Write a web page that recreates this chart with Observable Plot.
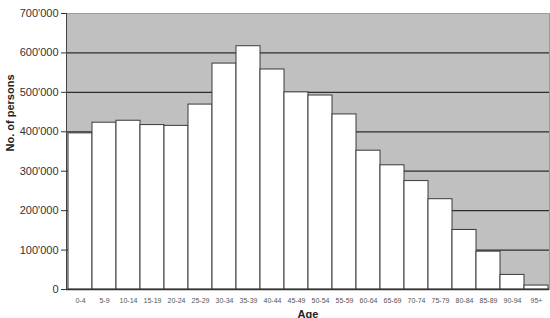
<!DOCTYPE html>
<html>
<head>
<meta charset="utf-8">
<script src="https://cdn.jsdelivr.net/npm/d3@7"></script>
<script src="https://cdn.jsdelivr.net/npm/@observablehq/plot@0.6"></script>
<style>
  html, body { margin: 0; padding: 0; background: #fff; }
  #chart { width: 550px; height: 318px; overflow: hidden; }
</style>
</head>
<body>
<div id="chart"></div>
<script>
const ageGroups = ["0-4","5-9","10-14","15-19","20-24","25-29","30-34","35-39","40-44","45-49",
                   "50-54","55-59","60-64","65-69","70-74","75-79","80-84","85-89","90-94","95+"];
const persons = [396000, 423000, 428000, 417000, 415000, 469000, 573000, 617000, 558000, 500000,
                 492000, 444000, 352000, 315000, 275000, 229000, 151000, 96000, 37000, 10000];
const yTicks = [0, 100000, 200000, 300000, 400000, 500000, 600000, 700000];

const data = ageGroups.map((a, i) => ({age: a, n: persons[i]}));
const fmt = d => d === 0 ? "0" : d3.format(",")(d).replace(/,/g, "'");

const chart = Plot.plot({
  width: 550,
  height: 318,
  marginLeft: 66,
  marginRight: 1,
  marginTop: 13,
  marginBottom: 29,
  style: {fontFamily: "'Liberation Sans', Arial, sans-serif", background: "#fff"},
  x: {domain: ageGroups, padding: 0, label: null},
  y: {domain: [0, 700000], label: null},
  marks: [
    Plot.frame({fill: "#c0c0c0", stroke: "#9a9a9a"}),
    Plot.gridY(yTicks.filter(d => d > 0 && d < 700000), {stroke: "#2e2e2e", strokeOpacity: 1, strokeWidth: 1.3}),
    Plot.barY(data, {x: "age", y: "n", fill: "#fff", stroke: "#3a3a3a", strokeWidth: 1, inset: 0}),
    Plot.axisY(yTicks, {tickFormat: fmt, tickSize: 5, tickPadding: 3, fontSize: 11, fill: "#333", stroke: "#333", label: null}),
    Plot.axisX({tickSize: 0, tickPadding: 9, fontSize: 7, fill: "#555", label: null}),
    Plot.ruleY([0], {stroke: "#333", strokeWidth: 1.3}),
    Plot.frame({anchor: "left", stroke: "#444"}),
    Plot.text(["No. of persons"], {frameAnchor: "left", dx: -56, rotate: -90, fontWeight: "bold", fontSize: 11, fill: "#222"}),
    Plot.text(["Age"], {frameAnchor: "bottom", dy: 28, lineAnchor: "bottom", fontWeight: "bold", fontSize: 11, fill: "#222"})
  ]
});
document.getElementById("chart").appendChild(chart);
</script>
</body>
</html>
